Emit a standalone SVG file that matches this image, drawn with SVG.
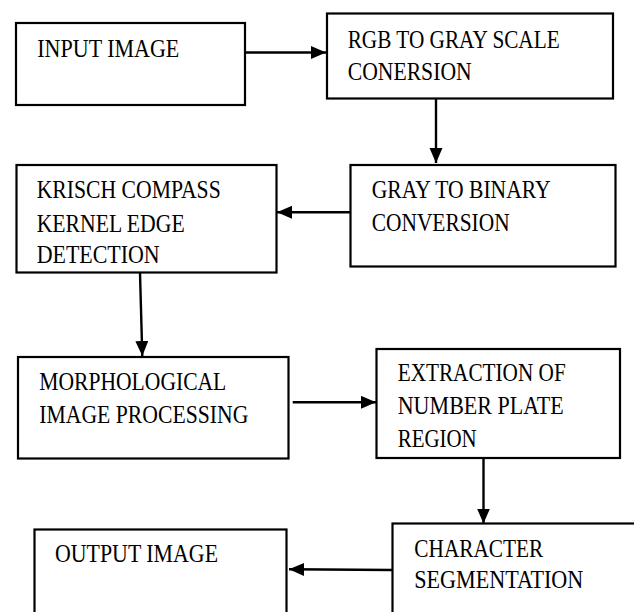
<svg xmlns="http://www.w3.org/2000/svg" width="634" height="612" viewBox="0 0 634 612">
<style>
.box{fill:#fff;stroke:#000;stroke-width:2.2}
.t{font-family:"Liberation Serif","Times New Roman",serif;font-size:26px;fill:#000}
.c{fill:none;stroke:#000;stroke-width:2.4}
</style>
<defs>
<marker id="ah" markerUnits="userSpaceOnUse" markerWidth="16" markerHeight="14" refX="15" refY="6.5" orient="auto">
<path d="M0,0 L15,6.5 L0,13 z" fill="#000"/>
</marker>
</defs>
<rect width="634" height="612" fill="#fff"/>
<g id="connectors">
<line class="c" x1="246" y1="52.5" x2="326" y2="52.5" marker-end="url(#ah)"/>
<line class="c" x1="436" y1="99" x2="436" y2="163" marker-end="url(#ah)"/>
<line class="c" x1="350" y1="212.3" x2="277" y2="212.3" marker-end="url(#ah)"/>
<line class="c" x1="140" y1="273" x2="142.3" y2="356" marker-end="url(#ah)"/>
<line class="c" x1="292.7" y1="402.3" x2="376" y2="402.3" marker-end="url(#ah)"/>
<line class="c" x1="483.5" y1="458.5" x2="483.5" y2="523.5" marker-end="url(#ah)"/>
<line class="c" x1="392" y1="570" x2="289" y2="569.3" marker-end="url(#ah)"/>
</g>
<g id="input">
<rect class="box" x="16" y="23" width="229" height="82"/>
<text class="t" x="37.3" y="57.3" textLength="142" lengthAdjust="spacingAndGlyphs">INPUT IMAGE</text>
</g>
<g id="rgb">
<rect class="box" x="327" y="13.5" width="286" height="85"/>
<text class="t" x="347.7" y="47.7" textLength="212" lengthAdjust="spacingAndGlyphs">RGB TO GRAY SCALE</text>
<text class="t" x="347.7" y="80" textLength="124" lengthAdjust="spacingAndGlyphs">CONERSION</text>
</g>
<g id="gray">
<rect class="box" x="350.5" y="165" width="265" height="101.5"/>
<text class="t" x="371.7" y="198.3" textLength="179" lengthAdjust="spacingAndGlyphs">GRAY TO BINARY</text>
<text class="t" x="371.7" y="231" textLength="138" lengthAdjust="spacingAndGlyphs">CONVERSION</text>
</g>
<g id="krisch">
<rect class="box" x="16.5" y="165" width="260" height="107.5"/>
<text class="t" x="36.7" y="198.3" textLength="184" lengthAdjust="spacingAndGlyphs">KRISCH COMPASS</text>
<text class="t" x="36.7" y="231.7" textLength="148" lengthAdjust="spacingAndGlyphs">KERNEL EDGE</text>
<text class="t" x="36.7" y="263.3" textLength="123" lengthAdjust="spacingAndGlyphs">DETECTION</text>
</g>
<g id="morph">
<rect class="box" x="18" y="357" width="270.5" height="101.5"/>
<text class="t" x="39.3" y="390" textLength="187" lengthAdjust="spacingAndGlyphs">MORPHOLOGICAL</text>
<text class="t" x="39.3" y="422.7" textLength="209" lengthAdjust="spacingAndGlyphs">IMAGE PROCESSING</text>
</g>
<g id="extraction">
<rect class="box" x="376.5" y="349" width="243.5" height="109"/>
<text class="t" x="397.7" y="381" textLength="168" lengthAdjust="spacingAndGlyphs">EXTRACTION OF</text>
<text class="t" x="397.7" y="414" textLength="166" lengthAdjust="spacingAndGlyphs">NUMBER PLATE</text>
<text class="t" x="397.7" y="446.7" textLength="79" lengthAdjust="spacingAndGlyphs">REGION</text>
</g>
<g id="output">
<rect class="box" x="34.5" y="529.5" width="252" height="100"/>
<text class="t" x="55" y="561.7" textLength="163" lengthAdjust="spacingAndGlyphs">OUTPUT IMAGE</text>
</g>
<g id="segmentation">
<rect class="box" x="392.5" y="523.5" width="250" height="100"/>
<text class="t" x="414.3" y="556.7" textLength="129" lengthAdjust="spacingAndGlyphs">CHARACTER</text>
<text class="t" x="414.3" y="588.3" textLength="169" lengthAdjust="spacingAndGlyphs">SEGMENTATION</text>
</g>
</svg>
